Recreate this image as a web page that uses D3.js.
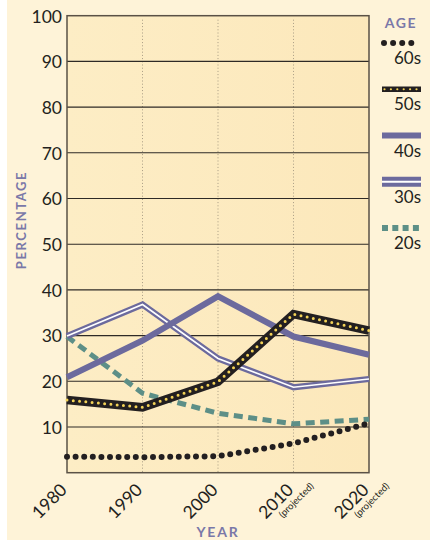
<!DOCTYPE html>
<html><head><meta charset="utf-8">
<script src="https://cdn.jsdelivr.net/npm/d3@7"></script>
<style>
html,body{margin:0;padding:0;background:#fff;}
svg{display:block;font-family:Lato,"Open Sans",sans-serif;}
</style></head>
<body><svg id="c" width="430" height="540"></svg>
<script>
const years = [1980, 1990, 2000, 2010, 2020];
const yearLabels = ["1980", "1990", "2000", "2010", "2020"];
const projectedYears = [2010, 2020];
const yTicks = [10, 20, 30, 40, 50, 60, 70, 80, 90, 100];
const ages = ["60s", "50s", "40s", "30s", "20s"];
const s60 = [3.5, 3.4, 3.6, 6.4, 10.8];
const s50 = [15.9, 14.3, 19.9, 34.7, 31.1];
const s40 = [20.9, 28.9, 38.6, 29.8, 25.8];
const s30 = [29.9, 36.8, 25.0, 18.7, 20.5];
const s20 = [29.8, 17.4, 13.0, 10.7, 11.7];

const svg = d3.select("#c");
const W = 430, H = 540;
const m = {l: 67, r: 369, t: 15.7, b: 472.7};
const purple = "#6c6a9d", teal = "#5d8f87", ink = "#231f20", yellow = "#f3d257", label = "#7a78a8";

// panel
svg.append("rect").attr("x", 7).attr("y", 0).attr("width", W - 7).attr("height", H).attr("fill", "#fef3d8");
const defs = svg.append("defs");
const g1 = defs.append("linearGradient").attr("id", "pg").attr("x1", 0).attr("x2", 1).attr("y1", 0).attr("y2", 0);
g1.append("stop").attr("offset", "0%").attr("stop-color", "#fdedc5");
g1.append("stop").attr("offset", "100%").attr("stop-color", "#fce8bb");

const x = d3.scaleLinear().domain([1980, 2020]).range([m.l, m.r]);
const y = d3.scaleLinear().domain([0, 100]).range([m.b, m.t]);

svg.append("rect").attr("x", m.l).attr("y", m.t).attr("width", m.r - m.l).attr("height", m.b - m.t).attr("fill", "url(#pg)");

// vertical dotted guides
svg.append("g").selectAll("line").data(years.slice(1, 4)).join("line")
  .attr("x1", d => x(d)).attr("x2", d => x(d)).attr("y1", m.t + 4).attr("y2", m.b)
  .attr("stroke", "#a89c84").attr("stroke-width", 1).attr("stroke-dasharray", "1 2.2");

// horizontal grid
svg.append("g").selectAll("line").data(yTicks.slice(0, 9)).join("line")
  .attr("x1", m.l).attr("x2", m.r).attr("y1", d => y(d)).attr("y2", d => y(d))
  .attr("stroke", "#2e2a26").attr("stroke-width", 1.1);

// frame
svg.append("rect").attr("x", m.l).attr("y", m.t).attr("width", m.r - m.l).attr("height", m.b - m.t)
  .attr("fill", "none").attr("stroke", "#5a5146").attr("stroke-width", 1.5);

// y axis
const yAxis = d3.axisLeft(y).tickValues(yTicks).tickSize(0).tickPadding(5).tickFormat(d3.format("d"));
const ya = svg.append("g").attr("transform", `translate(${m.l},0)`).call(yAxis);
ya.select(".domain").remove();
ya.selectAll("text").attr("font-size", 17.5).attr("fill", ink).attr("font-family", "Lato, sans-serif").attr("dy", "0.36em");

// x labels
const xl = svg.append("g").selectAll("g").data(years).join("g")
  .attr("transform", d => `translate(${x(d) + 1},491) rotate(-45)`);
xl.append("text").attr("text-anchor", "end").attr("font-size", 17.5).attr("fill", ink)
  .text((d, i) => yearLabels[i]);
xl.filter(d => projectedYears.includes(d)).append("text").attr("text-anchor", "end")
  .attr("x", 17).attr("y", 11).attr("font-size", 9.5).attr("fill", ink).text("(projected)");

// axis titles
svg.append("text").attr("transform", "translate(26,220) rotate(-90)").attr("text-anchor", "middle")
  .attr("font-size", 13).attr("font-weight", 700).attr("letter-spacing", 1.6).attr("fill", label).text("PERCENTAGE");
svg.append("text").attr("x", 218).attr("y", 537).attr("text-anchor", "middle")
  .attr("font-size", 14).attr("font-weight", 700).attr("letter-spacing", 1.8).attr("fill", label).text("YEAR");

// lines
const line = d3.line().x((d, i) => x(years[i])).y(d => y(d));
const lg = svg.append("g").attr("fill", "none");
// 20s
lg.append("path").attr("d", line(s20)).attr("stroke", teal).attr("stroke-width", 5).attr("stroke-dasharray", "9 5.5");
// 30s
lg.append("path").attr("d", line(s30)).attr("stroke", purple).attr("stroke-width", 6.2).attr("stroke-linejoin", "miter");
lg.append("path").attr("d", line(s30)).attr("stroke", "#fff").attr("stroke-width", 1.6).attr("stroke-linejoin", "miter");
// 40s
lg.append("path").attr("d", line(s40)).attr("stroke", purple).attr("stroke-width", 6.2).attr("stroke-linejoin", "miter");
// 60s
lg.append("path").attr("d", line(s60)).attr("stroke", ink).attr("stroke-width", 6).attr("stroke-linecap", "round").attr("stroke-dasharray", "0 8.6");
// 50s
lg.append("path").attr("d", line(s50)).attr("stroke", ink).attr("stroke-width", 8.5).attr("stroke-linejoin", "miter");
lg.append("path").attr("d", line(s50)).attr("stroke", yellow).attr("stroke-width", 3).attr("stroke-linecap", "round").attr("stroke-dasharray", "0 6.3");

// legend
svg.append("text").attr("x", 401).attr("y", 28).attr("text-anchor", "middle").attr("font-size", 14)
  .attr("font-weight", 700).attr("letter-spacing", 1.6).attr("fill", label).text("AGE");
const L = {x1: 383, x2: 420};
const ly = d3.scaleLinear().domain([0, ages.length - 1]).range([43, 228]);
const leg = svg.append("g");
ages.forEach((a, i) => {
  const yy = ly(i);
  if (a === "60s") {
    leg.append("line").attr("x1", L.x1 + 1).attr("x2", L.x2).attr("y1", yy).attr("y2", yy)
      .attr("stroke", ink).attr("stroke-width", 6).attr("stroke-linecap", "round").attr("stroke-dasharray", "0 9.1");
  } else if (a === "50s") {
    leg.append("line").attr("x1", L.x1 - 1).attr("x2", L.x2 + 1).attr("y1", yy).attr("y2", yy).attr("stroke", ink).attr("stroke-width", 5.5);
    leg.append("line").attr("x1", L.x1 + 1.5).attr("x2", L.x2).attr("y1", yy).attr("y2", yy)
      .attr("stroke", yellow).attr("stroke-width", 2.2).attr("stroke-linecap", "round").attr("stroke-dasharray", "0 6.4");
  } else if (a === "40s") {
    leg.append("line").attr("x1", L.x1 - 1).attr("x2", L.x2 + 1).attr("y1", yy).attr("y2", yy).attr("stroke", purple).attr("stroke-width", 6);
  } else if (a === "30s") {
    leg.append("line").attr("x1", L.x1 - 1).attr("x2", L.x2 + 1).attr("y1", yy).attr("y2", yy).attr("stroke", purple).attr("stroke-width", 10);
    leg.append("line").attr("x1", L.x1 - 1).attr("x2", L.x2 + 1).attr("y1", yy).attr("y2", yy).attr("stroke", "#fff").attr("stroke-width", 2.2);
  } else {
    leg.append("line").attr("x1", L.x1 - 1).attr("x2", L.x2 + 1).attr("y1", yy).attr("y2", yy)
      .attr("stroke", teal).attr("stroke-width", 6).attr("stroke-dasharray", "6 4.3");
  }
  leg.append("text").attr("x", 421).attr("y", yy + 21).attr("text-anchor", "end").attr("font-size", 17)
    .attr("fill", ink).text(a);
});
</script></body></html>
